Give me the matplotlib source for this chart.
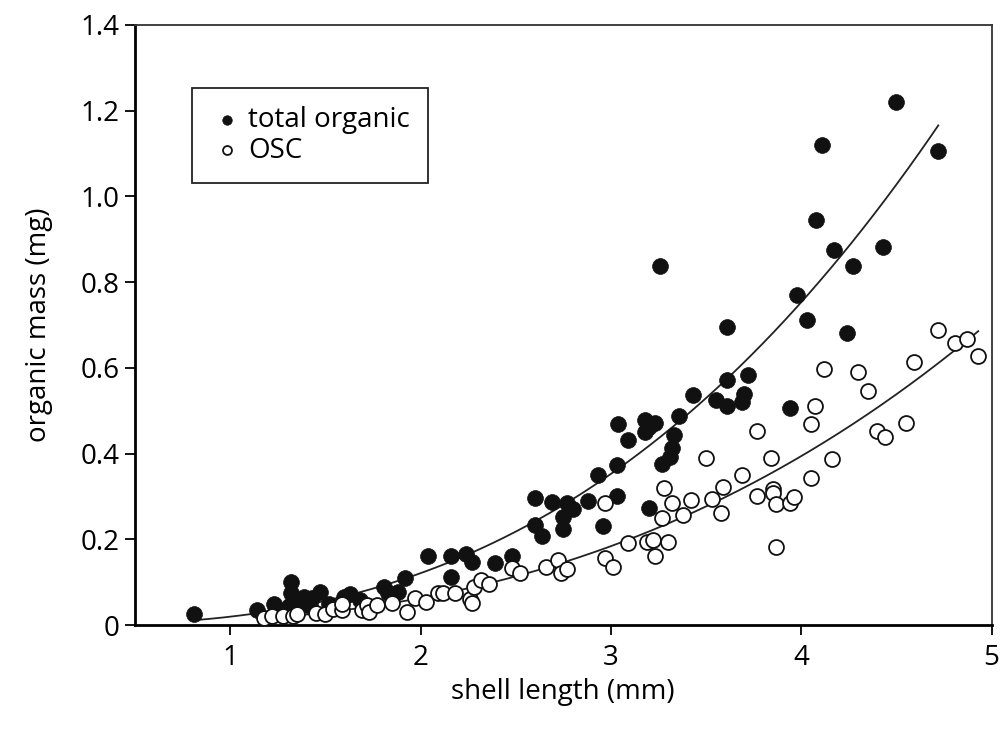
import numpy as np
import matplotlib.pyplot as plt

plt.rcParams['font.family'] = ['Open Sans', 'DejaVu Sans']

# total organic mass vs shell length
total_len = [0.81, 1.14, 1.23, 1.26, 1.32, 1.32, 1.31, 1.36, 1.39, 1.43, 1.47, 1.42,
             1.52, 1.60, 1.63, 1.68, 1.81, 1.83, 1.88, 1.92, 2.04, 2.16, 2.24, 2.27,
             2.16, 2.39, 2.48, 2.60, 2.69, 2.60, 2.64, 2.77, 2.80, 2.75, 2.75, 2.88,
             2.93, 2.96, 3.03, 3.03, 3.04, 3.09, 3.18, 3.23, 3.18, 3.20, 3.20, 3.26,
             3.27, 3.31, 3.32, 3.33, 3.36, 3.43, 3.55, 3.61, 3.61, 3.61, 3.69, 3.70,
             3.72, 3.94, 3.98, 4.03, 4.08, 4.11, 4.17, 4.24, 4.27, 4.43, 4.50, 4.72]
total_mass = [0.025, 0.035, 0.050, 0.030, 0.100, 0.075, 0.045, 0.055, 0.065, 0.062, 0.078, 0.045,
              0.050, 0.065, 0.072, 0.058, 0.088, 0.075, 0.078, 0.110, 0.161, 0.161, 0.165, 0.148,
              0.112, 0.145, 0.160, 0.296, 0.287, 0.233, 0.208, 0.285, 0.271, 0.252, 0.224, 0.289,
              0.350, 0.232, 0.373, 0.300, 0.469, 0.432, 0.478, 0.471, 0.450, 0.462, 0.273, 0.838,
              0.376, 0.392, 0.413, 0.443, 0.488, 0.537, 0.525, 0.511, 0.572, 0.695, 0.520, 0.539,
              0.583, 0.506, 0.770, 0.712, 0.945, 1.120, 0.875, 0.681, 0.838, 0.882, 1.220, 1.106]

# organic shell component (OSC)
osc_len = [1.18, 1.22, 1.28, 1.33, 1.35, 1.45, 1.50, 1.54, 1.59, 1.59, 1.69, 1.72,
           1.73, 1.77, 1.85, 1.93, 1.97, 2.03, 2.09, 2.12, 2.18, 2.26, 2.27, 2.28,
           2.32, 2.36, 2.48, 2.52, 2.66, 2.72, 2.74, 2.77, 2.97, 2.97, 3.01, 3.09,
           3.19, 3.22, 3.23, 3.30, 3.28, 3.32, 3.27, 3.38, 3.42, 3.50, 3.53, 3.59,
           3.58, 3.69, 3.77, 3.84, 3.77, 3.85, 3.85, 3.87, 3.94, 3.96, 3.87, 4.05,
           4.05, 4.07, 4.12, 4.16, 4.30, 4.35, 4.40, 4.44, 4.55, 4.59, 4.72, 4.81,
           4.87, 4.93]
osc_mass = [0.016, 0.020, 0.022, 0.020, 0.026, 0.028, 0.026, 0.037, 0.035, 0.050, 0.035, 0.047,
            0.030, 0.047, 0.051, 0.030, 0.063, 0.054, 0.074, 0.074, 0.074, 0.060, 0.052, 0.089,
            0.105, 0.095, 0.133, 0.121, 0.135, 0.152, 0.121, 0.131, 0.284, 0.156, 0.135, 0.191,
            0.194, 0.198, 0.161, 0.194, 0.320, 0.285, 0.250, 0.257, 0.292, 0.390, 0.294, 0.322,
            0.261, 0.350, 0.453, 0.390, 0.301, 0.317, 0.308, 0.282, 0.285, 0.299, 0.182, 0.343,
            0.469, 0.511, 0.597, 0.387, 0.590, 0.546, 0.453, 0.439, 0.471, 0.614, 0.688, 0.658,
            0.667, 0.628]


def power_fit(x, y):
    # least-squares fit of y = a * x^b: scan b, a has a closed form for each b
    x = np.asarray(x)
    y = np.asarray(y)
    best = None
    for b in np.linspace(1.5, 4.0, 2501):
        xb = x ** b
        a = np.sum(y * xb) / np.sum(xb * xb)
        sse = np.sum((y - a * xb) ** 2)
        if best is None or sse < best[0]:
            best = (sse, a, b)
    _, a, b = best
    xs = np.linspace(x.min(), x.max(), 200)
    return xs, a * xs ** b


fig = plt.figure(figsize=(10.03, 7.31), dpi=100)
ax = fig.add_axes([0.1346, 0.145, 0.854, 0.821])

xs, ys = power_fit(total_len, total_mass)
ax.plot(xs, ys, color='#222222', lw=1.3, zorder=2)
xs, ys = power_fit(osc_len, osc_mass)
ax.plot(xs, ys, color='#222222', lw=1.3, zorder=2)

ax.scatter(total_len, total_mass, s=130, c='#111111', edgecolors='#111111',
           linewidths=0.5, zorder=3, label='total organic')
ax.scatter(osc_len, osc_mass, s=115, facecolors='white', edgecolors='#111111',
           linewidths=1.3, zorder=4, label='OSC')

ax.set_xlim(0.5, 5)
ax.set_ylim(0, 1.4)
ax.set_xticks([1, 2, 3, 4, 5])
ax.set_yticks(np.arange(0, 1.41, 0.2))
ax.set_yticklabels(['0', '0.2', '0.4', '0.6', '0.8', '1.0', '1.2', '1.4'])
ax.tick_params(direction='out', length=7, width=1.3, labelsize=20, pad=4)
ax.tick_params(axis='x', pad=7)

for side in ['left', 'bottom']:
    ax.spines[side].set_linewidth(2)
for side in ['top', 'right']:
    ax.spines[side].set_linewidth(1.3)
    ax.spines[side].set_color('#333333')

ax.set_xlabel('shell length (mm)', fontsize=20, labelpad=4)
ax.set_ylabel('organic mass (mg)', fontsize=20, labelpad=20)

leg = ax.legend(loc='upper left', bbox_to_anchor=(0.067, 0.895), borderaxespad=0,
                fontsize=20, markerscale=0.6, handletextpad=0.15, borderpad=0.65,
                labelspacing=0.1, handlelength=1.2, fancybox=False,
                framealpha=1)
leg.get_frame().set_edgecolor('#222222')
leg.get_frame().set_linewidth(1.3)

plt.savefig('out.png', dpi=100)
